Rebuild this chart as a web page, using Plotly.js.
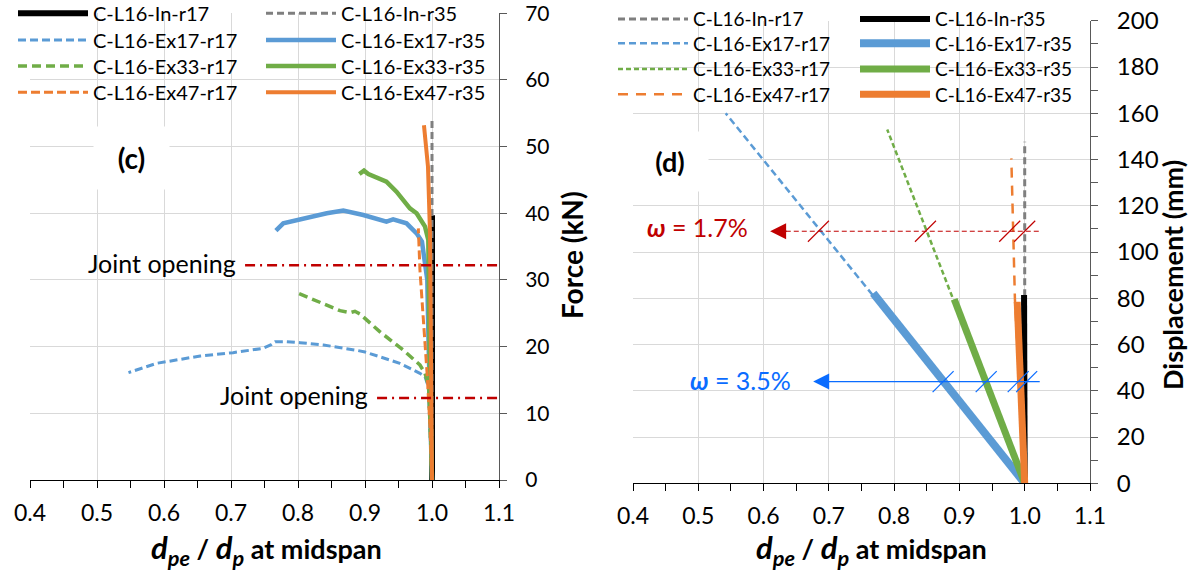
<!DOCTYPE html>
<html>
<head>
<meta charset="utf-8">
<script src="https://cdn.plot.ly/plotly-3.0.1.min.js"></script>
<style>
  html, body { margin: 0; padding: 0; background: #ffffff; }
  #chart { width: 1192px; height: 574px; }
</style>
</head>
<body>
<div id="chart"></div>
<script>
// ---------- (c) Force vs d_pe/d_p at midspan ----------
const forceInR17_x   = [1.0, 1.0];
const forceInR17_y   = [0, 39.7];
const forceInR35_x   = [1.0, 1.0];
const forceInR35_y   = [0, 54.3];
const forceEx17R17_x = [1.0, 0.998, 0.996, 0.9945, 0.9896, 0.982, 0.972, 0.952, 0.937, 0.90, 0.8876, 0.838, 0.803, 0.783, 0.766, 0.760, 0.748, 0.713, 0.703, 0.654, 0.589, 0.547];
const forceEx17R17_y = [0, 5, 10, 14.0, 15.5, 16.0, 16.5, 17.5, 18.0, 19.2, 19.45, 20.25, 20.6, 20.75, 20.75, 20.3, 19.75, 19.25, 19.1, 18.6, 17.5, 16.1];
const forceEx17R35_x = [1.0, 0.997, 0.995, 0.993, 0.9896, 0.985, 0.977, 0.962, 0.942, 0.932, 0.8975, 0.8676, 0.843, 0.813, 0.778, 0.767];
const forceEx17R35_y = [0, 10, 20, 30, 33.0, 35.75, 37.0, 38.5, 39.1, 38.75, 39.75, 40.4, 40.0, 39.25, 38.5, 37.4];
const forceEx33R17_x = [1.0, 0.997, 0.995, 0.9896, 0.982, 0.957, 0.922, 0.8925, 0.885, 0.878, 0.8627, 0.798];
const forceEx33R17_y = [0, 8, 14, 16.0, 17.25, 19.5, 22.25, 24.9, 25.3, 25.1, 25.4, 28.1];
const forceEx33R35_x = [1.0, 0.997, 0.9945, 0.9896, 0.977, 0.967, 0.947, 0.932, 0.905, 0.8985, 0.8915];
const forceEx33R35_y = [0, 15, 36.0, 38.0, 40.0, 40.75, 43.25, 44.75, 45.9, 46.4, 45.9];
const forceEx47R17_x = [1.0, 0.997, 0.993, 0.9896, 0.986, 0.982, 0.9796];
const forceEx47R17_y = [0, 8, 15.5, 20.0, 25.5, 31.5, 37.75];
const forceEx47R35_x = [1.0, 0.999, 0.998, 0.997, 0.994, 0.988];
const forceEx47R35_y = [0, 15, 30, 37, 47, 53.2];

// joint opening force levels and where their markers begin
const jointOpenForce = [32.2, 12.3];
const jointOpenStart = [0.721, 0.918];
const jointOpenEnd   = 1.1;

// ---------- (d) Displacement vs d_pe/d_p at midspan ----------
const dispInR17_x   = [1.0, 1.0];
const dispInR17_y   = [0, 147.7];
const dispInR35_x   = [1.0, 0.999];
const dispInR35_y   = [0, 81.4];
const dispEx17R17_x = [1.0, 0.542];
const dispEx17R17_y = [0, 160];
const dispEx17R35_x = [1.0, 0.768];
const dispEx17R35_y = [0, 82.2];
const dispEx33R17_x = [1.0, 0.7894];
const dispEx33R17_y = [0, 153];
const dispEx33R35_x = [1.0, 0.892];
const dispEx33R35_y = [0, 79.6];
const dispEx47R17_x = [1.0, 0.985, 0.9795];
const dispEx47R17_y = [0, 79.6, 140.5];
const dispEx47R35_x = [1.0, 0.9885];
const dispEx47R35_y = [0, 78.5];

// drift-ratio levels (omega) and their crossings with each curve
const omegaLabels   = ['1.7%', '3.5%'];
const omegaDisp     = [109, 44];
const omegaTipX     = [0.610, 0.676];
const omegaLineX0   = [0.634, 0.699];
const omegaLineX1   = [1.023, 1.023];
const omegaCrossX1  = [0.684, 0.848, 0.977, 1.000];
const omegaCrossX2  = [0.875, 0.941, 0.990, 1.003];

const xTickVals = [0.4, 0.5, 0.6, 0.7, 0.8, 0.9, 1.0, 1.1];

const BLACK = '#000000', GRAY = '#7F7F7F', BLUE = '#5B9BD5', GREEN = '#70AD47', ORANGE = '#ED7D31';
const RED = '#C00000', ARROWBLUE = '#0A6CFF';
const FONT = 'Lato, "Open Sans", sans-serif';
const W = 1192, H = 574;

// legend block: two columns of four entries per panel, one legend per entry
const legendColX  = { c: [13, 261], d: [613, 855] };
const legendRowY  = { c: [13.3, 40, 66, 92.3], d: [19, 43.3, 69, 94.3] };
const legendFont  = { c: 20, d: 19 };
const legendDefs = [];
function legendSlot(panel, col, row) {
  const idx = legendDefs.length;
  const key = idx === 0 ? 'legend' : 'legend' + (idx + 1);
  const fs = legendFont[panel];
  const itemH = Math.max(fs * 1.3, 16) + 3;
  const top = legendRowY[panel][row] - (itemH / 2 + 5);
  legendDefs.push({ key: key, cfg: {
    orientation: 'v', bgcolor: 'rgba(0,0,0,0)', borderwidth: 0,
    xanchor: 'left', yanchor: 'top', itemwidth: 70,
    x: legendColX[panel][col] / W, y: 1 - top / H,
    font: { family: FONT, size: fs, color: '#000' },
    itemclick: false, itemdoubleclick: false
  }});
  return key;
}

function series(name, x, y, color, width, dash, xa, ya, legend) {
  return {
    type: 'scatter', mode: 'lines', name: name, x: x, y: y,
    xaxis: xa, yaxis: ya, legend: legend,
    line: { color: color, width: width, dash: dash || 'solid' },
    hoverinfo: 'skip'
  };
}

const traces = [
  // panel (c)
  series('C-L16-In-r17',   forceInR17_x,   forceInR17_y,   BLACK,  6,   'solid',    'x', 'y', legendSlot('c', 0, 0)),
  series('C-L16-In-r35',   forceInR35_x,   forceInR35_y,   GRAY,   3,   '7px,4px',  'x', 'y', legendSlot('c', 1, 0)),
  series('C-L16-Ex17-r17', forceEx17R17_x, forceEx17R17_y, BLUE,   3,   '8px,4px',  'x', 'y', legendSlot('c', 0, 1)),
  series('C-L16-Ex17-r35', forceEx17R35_x, forceEx17R35_y, BLUE,   4.5, 'solid',    'x', 'y', legendSlot('c', 1, 1)),
  series('C-L16-Ex33-r17', forceEx33R17_x, forceEx33R17_y, GREEN,  3.5, '9px,5px',  'x', 'y', legendSlot('c', 0, 2)),
  series('C-L16-Ex33-r35', forceEx33R35_x, forceEx33R35_y, GREEN,  4.5, 'solid',    'x', 'y', legendSlot('c', 1, 2)),
  series('C-L16-Ex47-r17', forceEx47R17_x, forceEx47R17_y, ORANGE, 3,   '9px,4px',  'x', 'y', legendSlot('c', 0, 3)),
  series('C-L16-Ex47-r35', forceEx47R35_x, forceEx47R35_y, ORANGE, 4,   'solid',    'x', 'y', legendSlot('c', 1, 3)),
  // panel (d)
  series('C-L16-In-r17',   dispInR17_x,    dispInR17_y,    GRAY,   3,   '7px,4px',  'x2', 'y2', legendSlot('d', 0, 0)),
  series('C-L16-In-r35',   dispInR35_x,    dispInR35_y,    BLACK,  6,   'solid',    'x2', 'y2', legendSlot('d', 1, 0)),
  series('C-L16-Ex17-r17', dispEx17R17_x,  dispEx17R17_y,  BLUE,   2.5, '7px,4px',  'x2', 'y2', legendSlot('d', 0, 1)),
  series('C-L16-Ex17-r35', dispEx17R35_x,  dispEx17R35_y,  BLUE,   8,   'solid',    'x2', 'y2', legendSlot('d', 1, 1)),
  series('C-L16-Ex33-r17', dispEx33R17_x,  dispEx33R17_y,  GREEN,  2.5, '5px,3px',  'x2', 'y2', legendSlot('d', 0, 2)),
  series('C-L16-Ex33-r35', dispEx33R35_x,  dispEx33R35_y,  GREEN,  7,   'solid',    'x2', 'y2', legendSlot('d', 1, 2)),
  series('C-L16-Ex47-r17', dispEx47R17_x,  dispEx47R17_y,  ORANGE, 2.5, '10px,8px', 'x2', 'y2', legendSlot('d', 0, 3)),
  series('C-L16-Ex47-r35', dispEx47R35_x,  dispEx47R35_y,  ORANGE, 7,   'solid',    'x2', 'y2', legendSlot('d', 1, 3))
];

// joint-opening reference lines
jointOpenForce.forEach(function (f, i) {
  traces.push({
    type: 'scatter', mode: 'lines', x: [jointOpenStart[i], jointOpenEnd], y: [f, f],
    xaxis: 'x', yaxis: 'y', showlegend: false, hoverinfo: 'skip', cliponaxis: false,
    line: { color: RED, width: 2.5, dash: '10px,5px,2px,5px' }
  });
});

// omega guide lines (dashed for 1.7 %, solid for 3.5 %)
const omegaColors = [RED, ARROWBLUE];
const omegaDash = ['5px,3px', 'solid'];
const omegaWidth = [1, 1.3];
omegaDisp.forEach(function (d, i) {
  traces.push({
    type: 'scatter', mode: 'lines', x: [omegaLineX0[i], omegaLineX1[i]], y: [d, d],
    xaxis: 'x2', yaxis: 'y2', showlegend: false, hoverinfo: 'skip',
    line: { color: omegaColors[i], width: omegaWidth[i], dash: omegaDash[i] }
  });
});
[omegaCrossX1, omegaCrossX2].forEach(function (xs, i) {
  traces.push({
    type: 'scatter', mode: 'markers', x: xs, y: xs.map(function () { return omegaDisp[i]; }),
    xaxis: 'x2', yaxis: 'y2', showlegend: false, hoverinfo: 'skip', cliponaxis: false,
    marker: { symbol: 'line-ne', size: 21, color: omegaColors[i], line: { color: omegaColors[i], width: 1.2 } }
  });
});

function gridAxis(extra) {
  return Object.assign({
    showgrid: true, gridcolor: '#D9D9D9', gridwidth: 1, zeroline: false,
    showline: true, linewidth: 1, ticks: 'outside', ticklen: 7, tickwidth: 1,
    ticklabeloverflow: 'allow', fixedrange: true
  }, extra);
}

const DSTYLE = 'font-size:31px';
const xTitle = '<b><span style="' + DSTYLE + '"><i>d</i><sub><i>pe</i></sub></span> / ' +
               '<span style="' + DSTYLE + '"><i>d</i><sub><i>p</i></sub></span> at midspan</b>';

const annotations = [
  { xref: 'x', yref: 'y', x: 0.5515, y: 48.3, text: '<b>(c)</b>', showarrow: false,
    bgcolor: '#ffffff', width: 73, height: 60, font: { family: FONT, size: 28, color: '#000' } },
  { xref: 'x2', yref: 'y2', x: 0.4567, y: 139.2, text: '<b>(d)</b>', showarrow: false,
    bgcolor: '#ffffff', width: 74, height: 57, font: { family: FONT, size: 27, color: '#000' } },
  // axis titles
  { xref: 'paper', yref: 'paper', x: 266 / W, y: 1 - 549 / H, xanchor: 'center', yanchor: 'middle',
    text: xTitle, showarrow: false, font: { family: FONT, size: 27, color: '#000' } },
  { xref: 'paper', yref: 'paper', x: 871 / W, y: 1 - 549 / H, xanchor: 'center', yanchor: 'middle',
    text: xTitle, showarrow: false, font: { family: FONT, size: 27, color: '#000' } },
  { xref: 'paper', yref: 'paper', x: 572 / W, y: 1 - 255 / H, xanchor: 'center', yanchor: 'middle',
    textangle: -90, text: '<b>Force (kN)</b>', showarrow: false, font: { family: FONT, size: 28, color: '#000' } },
  { xref: 'paper', yref: 'paper', x: 1173 / W, y: 1 - 275 / H, xanchor: 'center', yanchor: 'middle',
    textangle: -90, text: '<b>Displacement (mm)</b>', showarrow: false, font: { family: FONT, size: 27, color: '#000' } }
];
const jointShift = [2, 3];
jointOpenForce.forEach(function (f, i) {
  annotations.push({
    xref: 'x', yref: 'y', x: jointOpenStart[i], y: f, xanchor: 'right', yanchor: 'middle',
    xshift: -7, yshift: jointShift[i], text: 'Joint opening', showarrow: false,
    font: { family: FONT, size: 25, color: '#000' }
  });
});
const omegaShift = [4, 2];
omegaDisp.forEach(function (d, i) {
  // arrow head
  annotations.push({
    xref: 'x2', yref: 'y2', axref: 'x2', ayref: 'y2',
    x: omegaTipX[i], y: d, ax: omegaLineX0[i] + 0.004, ay: d,
    text: '', showarrow: true, arrowhead: 2, arrowsize: 3.2 / omegaWidth[i],
    arrowwidth: omegaWidth[i], arrowcolor: omegaColors[i], standoff: 0
  });
  // omega label
  annotations.push({
    xref: 'x2', yref: 'y2', x: omegaTipX[i], y: d, xanchor: 'right', yanchor: 'middle',
    xshift: -20, yshift: omegaShift[i], showarrow: false,
    text: '<b><i>ω</i></b> = ' + omegaLabels[i],
    font: { family: FONT, size: 25, color: omegaColors[i] }
  });
});

const layout = {
  width: W, height: H,
  margin: { l: 0, r: 0, t: 0, b: 0, pad: 0, autoexpand: false },
  paper_bgcolor: '#ffffff', plot_bgcolor: 'rgba(0,0,0,0)',
  font: { family: FONT, color: '#000000', size: 20 },
  showlegend: true,
  xaxis: gridAxis({
    domain: [30 / W, 499 / W], anchor: 'y', range: [0.4, 1.1],
    tickvals: xTickVals, tickformat: '.1f', linecolor: '#000000', tickcolor: '#000000',
    minor: { dtick: 0.05, tick0: 0.4, ticks: 'outside', ticklen: 7, tickcolor: '#000000', showgrid: false },
    tickfont: { family: FONT, size: 23, color: '#000' }, ticklabelstandoff: 5
  }),
  yaxis: gridAxis({
    domain: [(H - 480) / H, (H - 13.3) / H], anchor: 'x', side: 'right', range: [0, 70],
    dtick: 10, linecolor: '#595959', tickcolor: '#595959',
    tickfont: { family: FONT, size: 21, color: '#000' }, ticklabelstandoff: 14
  }),
  xaxis2: gridAxis({
    domain: [633 / W, 1090 / W], anchor: 'y2', range: [0.4, 1.1],
    tickvals: xTickVals, tickformat: '.1f', linecolor: '#000000', tickcolor: '#000000',
    minor: { dtick: 0.05, tick0: 0.4, ticks: 'outside', ticklen: 7, tickcolor: '#000000', showgrid: false },
    tickfont: { family: FONT, size: 23, color: '#000' }, ticklabelstandoff: 5
  }),
  yaxis2: gridAxis({
    domain: [(H - 483.3) / H, (H - 20.8) / H], anchor: 'x2', side: 'right', range: [0, 200],
    dtick: 20, linecolor: '#595959', tickcolor: '#595959',
    minor: { dtick: 10, ticks: 'outside', ticklen: 7, tickcolor: '#595959', showgrid: false },
    tickfont: { family: FONT, size: 24, color: '#000' }, ticklabelstandoff: 14
  }),
  annotations: annotations
};
legendDefs.forEach(function (l) { layout[l.key] = l.cfg; });

Plotly.newPlot('chart', traces, layout, { staticPlot: true, displayModeBar: false });
</script>
</body>
</html>
